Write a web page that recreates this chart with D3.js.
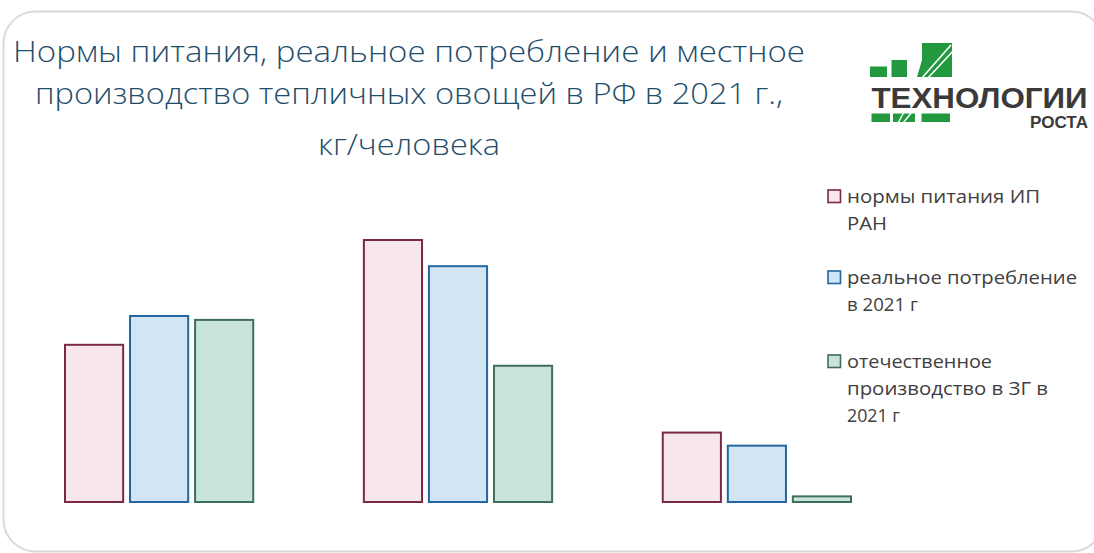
<!DOCTYPE html>
<html lang="ru">
<head>
<meta charset="utf-8">
<script src="https://cdn.jsdelivr.net/npm/d3@7"></script>
<style>
  html, body { margin: 0; padding: 0; background: #fff; }
  svg { display: block; }
</style>
</head>
<body>
<svg id="chart" width="1094" height="553"></svg>
<script>
// Greenhouse vegetables, kg per person (2021)
const categories = ["огурцы", "томаты", "прочие"];
const seriesNames = ["нормы питания ИП РАН", "реальное потребление в 2021 г", "отечественное производство в ЗГ в 2021 г"];
const normValues = [12.0, 20.0, 5.3];
const consumptionValues = [14.2, 18.0, 4.3];
const productionValues = [13.9, 10.4, 0.43];

const titleLines = [
  "Нормы питания, реальное потребление и местное",
  "производство тепличных овощей в РФ в 2021 г.,",
  "кг/человека"
];
const legendLines = [
  ["нормы питания ИП", "РАН"],
  ["реальное потребление", "в 2021 г"],
  ["отечественное", "производство в ЗГ в", "2021 г"]
];

const seriesValues = [normValues, consumptionValues, productionValues];
const fills = ["#f7e6ea", "#d2e5f4", "#c9e4da"];
const strokes = ["#7a2a45", "#2367a0", "#3f6e5b"];

const svg = d3.select("#chart");

// rounded frame
svg.append("rect")
  .attr("x", 3.5).attr("y", 11.5)
  .attr("width", 1100).attr("height", 540)
  .attr("rx", 32).attr("ry", 32)
  .attr("fill", "#fff")
  .attr("stroke", "#dadada")
  .attr("stroke-width", 2);

// title
const title = svg.append("g")
  .attr("font-family", "'Open Sans', sans-serif")
  .attr("font-weight", 350)
  .attr("font-size", 28.5)
  .attr("fill", "#1f4e6b")
  .attr("text-anchor", "middle");
const titleBase = [62, 104, 155];
const titleWidth = [792, 748, 182];
titleLines.forEach((t, i) => {
  title.append("text")
    .attr("x", 409).attr("y", titleBase[i])
    .attr("textLength", titleWidth[i])
    .attr("lengthAdjust", "spacingAndGlyphs")
    .text(t);
});

// bars
const baseline = 502;
const y = d3.scaleLinear().domain([0, 20]).range([baseline, 240]);
const x0 = d3.scaleBand().domain(categories).range([64, 852]).paddingInner(0.3635).paddingOuter(0);
const x1 = d3.scaleBand().domain(d3.range(seriesNames.length)).range([0, x0.bandwidth()]).paddingInner(0.075);

const rows = categories.map((c, ci) => ({
  category: c,
  values: seriesValues.map((vals, si) => ({ si, v: vals[ci] }))
}));

const groups = svg.append("g").selectAll("g")
  .data(rows).join("g")
  .attr("transform", d => `translate(${x0(d.category)},0)`);

groups.selectAll("rect")
  .data(d => d.values).join("rect")
  .attr("x", d => x1(d.si) + 1)
  .attr("y", d => y(d.v))
  .attr("width", x1.bandwidth() - 2)
  .attr("height", d => y(0) - y(d.v))
  .attr("fill", d => fills[d.si])
  .attr("stroke", d => strokes[d.si])
  .attr("stroke-width", 2);

// legend
const legend = svg.append("g")
  .attr("font-family", "'Open Sans', sans-serif")
  .attr("font-size", 18.5)
  .attr("fill", "#404040");
const legendTop = [203, 284, 368];
const legendWidths = [[193, 40], [230, 71], [145, 201, 53]];
const lineStep = 27;
legendLines.forEach((lines, i) => {
  legend.append("rect")
    .attr("x", 828).attr("y", legendTop[i] - 13)
    .attr("width", 12.5).attr("height", 12.5)
    .attr("fill", fills[i])
    .attr("stroke", strokes[i])
    .attr("stroke-width", 1.6);
  lines.forEach((t, j) => {
    legend.append("text")
      .attr("x", 847).attr("y", legendTop[i] + j * lineStep)
      .attr("textLength", legendWidths[i][j])
      .attr("lengthAdjust", "spacingAndGlyphs")
      .text(t);
  });
});

// logo
const green = "#22993f";
const logo = svg.append("g");
logo.append("rect").attr("x", 870).attr("y", 66.5).attr("width", 17).attr("height", 10.5).attr("fill", green);
logo.append("rect").attr("x", 891.5).attr("y", 60).attr("width", 15.5).attr("height", 17).attr("fill", green);
logo.append("path")
  .attr("d", "M917,77 L922,60 L922,43 L952,43 L952,77 Z")
  .attr("fill", green);
[[921, 79, 951, 45], [927, 79, 954, 50]].forEach(l => {
  logo.append("line")
    .attr("x1", l[0]).attr("y1", l[1]).attr("x2", l[2]).attr("y2", l[3])
    .attr("stroke", "#fff").attr("stroke-width", 1.6);
});
logo.append("rect").attr("x", 871.5).attr("y", 113.5).attr("width", 18.5).attr("height", 8.5).attr("fill", green);
logo.append("rect").attr("x", 893).attr("y", 113.5).attr("width", 22).attr("height", 8.5).attr("fill", green);
[[898, 123, 904, 112], [903, 123, 912, 112]].forEach(l => {
  logo.append("line")
    .attr("x1", l[0]).attr("y1", l[1]).attr("x2", l[2]).attr("y2", l[3])
    .attr("stroke", "#fff").attr("stroke-width", 1.4);
});
logo.append("rect").attr("x", 921.5).attr("y", 113.5).attr("width", 28.5).attr("height", 8.5).attr("fill", green);
logo.append("text")
  .attr("x", 871.5).attr("y", 107.5)
  .attr("font-family", "'Liberation Sans', Arial, sans-serif")
  .attr("font-weight", 700)
  .attr("font-size", 29)
  .attr("fill", "#3a3a3a")
  .attr("textLength", 216)
  .attr("lengthAdjust", "spacingAndGlyphs")
  .text("ТЕХНОЛОГИИ");
logo.append("text")
  .attr("x", 1088).attr("y", 128.3)
  .attr("text-anchor", "end")
  .attr("font-family", "'Liberation Sans', Arial, sans-serif")
  .attr("font-weight", 700)
  .attr("font-size", 16)
  .attr("fill", "#3a3a3a")
  .attr("textLength", 58)
  .attr("lengthAdjust", "spacingAndGlyphs")
  .text("РОСТА");
</script>
</body>
</html>
